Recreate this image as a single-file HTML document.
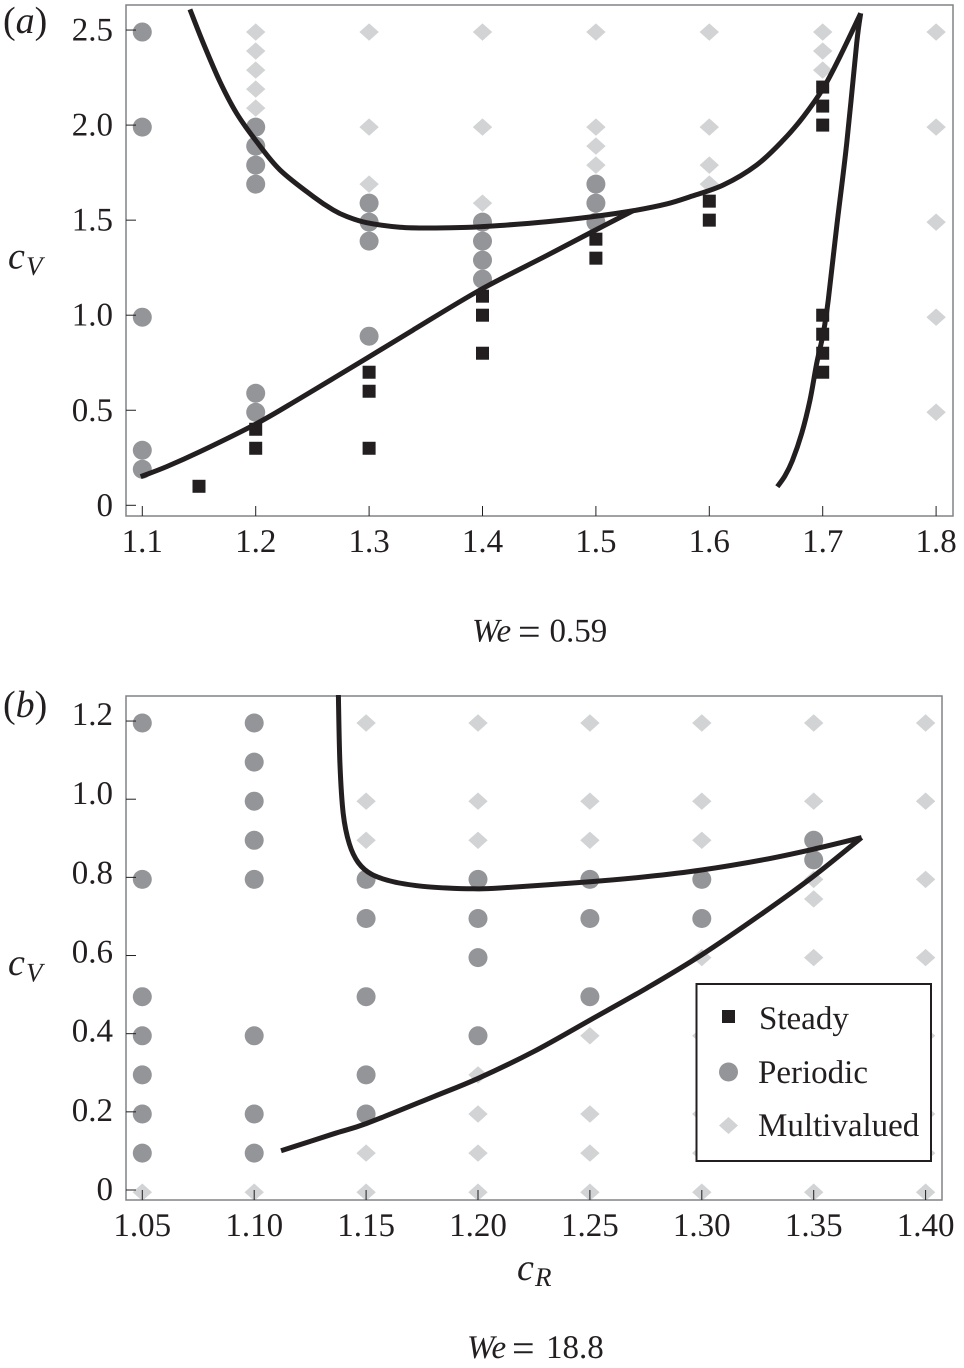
<!DOCTYPE html>
<html lang="en">
<head>
<meta charset="utf-8">
<title>Regime maps in the cR-cV plane</title>
<style>
html,body{margin:0;padding:0;background:#fff}
svg{display:block}
text{font-family:"Liberation Serif",serif;fill:#231f20;text-rendering:geometricPrecision}
.it{font-style:italic}
</style>
</head>
<body>
<svg id="figure" xmlns="http://www.w3.org/2000/svg" width="964" height="1368" viewBox="0 0 964 1368">
  <rect x="0" y="0" width="964" height="1368" fill="#fff"/>
  <defs>
    <clipPath id="clipB"><rect x="126" y="695" width="817" height="506"/></clipPath>
  </defs>

  <g>
    <g id="a-marks"></g>
    <rect x="126" y="5" width="827" height="511" fill="none" stroke="#808285" stroke-width="1.5"/>
    <g id="a-ticks"></g>
    <g id="a-curves"></g>
    <text x="3" y="33" font-size="38">(<tspan class="it">a</tspan>)</text>
    <text><tspan class="it" x="8" y="268.5" font-size="38">c</tspan><tspan class="it" x="26" y="275" font-size="27">V</tspan></text>
    <text><tspan class="it" x="472" y="641.5" font-size="33">We</tspan><tspan x="518" y="645" font-size="40">=</tspan><tspan x="549.5" y="641.5" font-size="33">0.59</tspan></text>
  </g>

  <g>
    <g id="b-marks"></g>
    <rect x="126" y="696" width="816" height="504" fill="none" stroke="#808285" stroke-width="1.5"/>
    <g id="b-ticks"></g>
    <g id="b-curves" clip-path="url(#clipB)"></g>
    <text x="3" y="717" font-size="38">(<tspan class="it">b</tspan>)</text>
    <text><tspan class="it" x="8" y="975" font-size="38">c</tspan><tspan class="it" x="26" y="981.5" font-size="27">V</tspan></text>
    <text><tspan class="it" x="517" y="1280" font-size="38">c</tspan><tspan class="it" x="535" y="1286" font-size="27">R</tspan></text>
    <text><tspan class="it" x="467" y="1358" font-size="33">We</tspan><tspan x="512" y="1361.5" font-size="40">=</tspan><tspan x="546" y="1358" font-size="33">18.8</tspan></text>

    <g>
      <rect x="696.5" y="984" width="234.5" height="177" fill="#fff" stroke="#231f20" stroke-width="2"/>
      <rect x="722" y="1010" width="13" height="13" fill="#231f20"/>
      <circle cx="728.5" cy="1072" r="9.5" fill="#939598"/>
      <polygon points="719,1125.5 728.5,1117 738,1125.5 728.5,1134" fill="#d1d3d4"/>
      <text x="759" y="1029" font-size="33">Steady</text>
      <text x="758" y="1083" font-size="33">Periodic</text>
      <text x="758" y="1136" font-size="33">Multivalued</text>
    </g>
  </g>
</svg>

<script>
/* ---------- Panel (a) data, We = 0.59 ---------- */
var aXTickValues = [1.1, 1.2, 1.3, 1.4, 1.5, 1.6, 1.7, 1.8];
var aXTickLabels = ["1.1", "1.2", "1.3", "1.4", "1.5", "1.6", "1.7", "1.8"];
var aYTickValues = [0, 0.5, 1.0, 1.5, 2.0, 2.5];
var aYTickLabels = ["0", "0.5", "1.0", "1.5", "2.0", "2.5"];

var aMultivalued = [
  [1.2, 2.5], [1.2, 2.4], [1.2, 2.3], [1.2, 2.2], [1.2, 2.1],
  [1.3, 2.5], [1.3, 2.0], [1.3, 1.7],
  [1.4, 2.5], [1.4, 2.0], [1.4, 1.6],
  [1.5, 2.5], [1.5, 2.0], [1.5, 1.9], [1.5, 1.8],
  [1.6, 2.5], [1.6, 2.0], [1.6, 1.8], [1.6, 1.7],
  [1.7, 2.5], [1.7, 2.4], [1.7, 2.3],
  [1.8, 2.5], [1.8, 2.0], [1.8, 1.5], [1.8, 1.0], [1.8, 0.5]
];
var aPeriodic = [
  [1.1, 2.5], [1.1, 2.0], [1.1, 1.0], [1.1, 0.3], [1.1, 0.2],
  [1.2, 2.0], [1.2, 1.9], [1.2, 1.8], [1.2, 1.7], [1.2, 0.6], [1.2, 0.5],
  [1.3, 1.6], [1.3, 1.5], [1.3, 1.4], [1.3, 0.9],
  [1.4, 1.5], [1.4, 1.4], [1.4, 1.3], [1.4, 1.2],
  [1.5, 1.7], [1.5, 1.6], [1.5, 1.5]
];
var aSteady = [
  [1.15, 0.1],
  [1.2, 0.4], [1.2, 0.3],
  [1.3, 0.7], [1.3, 0.6], [1.3, 0.3],
  [1.4, 1.1], [1.4, 1.0], [1.4, 0.8],
  [1.5, 1.4], [1.5, 1.3],
  [1.6, 1.6], [1.6, 1.5],
  [1.7, 2.2], [1.7, 2.1], [1.7, 2.0], [1.7, 1.0], [1.7, 0.9], [1.7, 0.8], [1.7, 0.7]
];
var aUpperCurve = [
  [1.142, 2.622], [1.1538, 2.443], [1.1685, 2.239], [1.1832, 2.072], [1.2009, 1.922],
  [1.2214, 1.773], [1.2508, 1.632], [1.2684, 1.561], [1.2802, 1.527], [1.2979, 1.494], [1.3272, 1.470],
  [1.3566, 1.466], [1.3861, 1.469], [1.4154, 1.479], [1.4566, 1.499], [1.4974, 1.526],
  [1.5327, 1.557], [1.5624, 1.593], [1.583, 1.631], [1.6123, 1.693], [1.6418, 1.799],
  [1.6653, 1.931], [1.6829, 2.054], [1.7005, 2.205], [1.7152, 2.372], [1.7335, 2.601]
];
var aRightCurve = [
  [1.7335, 2.601], [1.73, 2.444], [1.7212, 1.915], [1.7123, 1.471], [1.7049, 1.085],
  [1.7005, 0.909], [1.6947, 0.750], [1.6888, 0.556], [1.6815, 0.380],
  [1.6732, 0.235], [1.6667, 0.155], [1.66, 0.098]
];
var aLowerCurve = [
  [1.0986, 0.151], [1.1215, 0.204], [1.1509, 0.283], [1.2, 0.429], [1.2391, 0.565],
  [1.2979, 0.777], [1.3387, 0.926], [1.3978, 1.138], [1.4566, 1.320], [1.4974, 1.448], [1.5327, 1.557]
];

/* ---------- Panel (b) data, We = 18.8 ---------- */
var bXTickValues = [1.05, 1.10, 1.15, 1.20, 1.25, 1.30, 1.35, 1.40];
var bXTickLabels = ["1.05", "1.10", "1.15", "1.20", "1.25", "1.30", "1.35", "1.40"];
var bYTickValues = [0, 0.2, 0.4, 0.6, 0.8, 1.0, 1.2];
var bYTickLabels = ["0", "0.2", "0.4", "0.6", "0.8", "1.0", "1.2"];

var bMultivalued = [
  [1.05, 0], [1.10, 0],
  [1.15, 1.2], [1.15, 1.0], [1.15, 0.9], [1.15, 0.1], [1.15, 0],
  [1.20, 1.2], [1.20, 1.0], [1.20, 0.9], [1.20, 0.3], [1.20, 0.2], [1.20, 0.1], [1.20, 0],
  [1.25, 1.2], [1.25, 1.0], [1.25, 0.9], [1.25, 0.4], [1.25, 0.2], [1.25, 0.1], [1.25, 0],
  [1.30, 1.2], [1.30, 1.0], [1.30, 0.9], [1.30, 0.6], [1.30, 0.4], [1.30, 0.2], [1.30, 0.1], [1.30, 0],
  [1.35, 1.2], [1.35, 1.0], [1.35, 0.8], [1.35, 0.75], [1.35, 0.6], [1.35, 0],
  [1.40, 1.2], [1.40, 1.0], [1.40, 0.8], [1.40, 0.6], [1.40, 0.4], [1.40, 0.2], [1.40, 0.1], [1.40, 0]
];
var bPeriodic = [
  [1.05, 1.2], [1.05, 0.8], [1.05, 0.5], [1.05, 0.4], [1.05, 0.3], [1.05, 0.2], [1.05, 0.1],
  [1.10, 1.2], [1.10, 1.1], [1.10, 1.0], [1.10, 0.9], [1.10, 0.8], [1.10, 0.4], [1.10, 0.2], [1.10, 0.1],
  [1.15, 0.8], [1.15, 0.7], [1.15, 0.5], [1.15, 0.3], [1.15, 0.2],
  [1.20, 0.8], [1.20, 0.7], [1.20, 0.6], [1.20, 0.4],
  [1.25, 0.8], [1.25, 0.7], [1.25, 0.5],
  [1.30, 0.8], [1.30, 0.7],
  [1.35, 0.9], [1.35, 0.85]
];
var bUpperCurve = [
  [1.1376, 1.276], [1.1383, 1.097], [1.1398, 0.967], [1.1425, 0.891], [1.1465, 0.843],
  [1.1525, 0.813], [1.1622, 0.794], [1.1741, 0.783], [1.186, 0.778], [1.1979, 0.776],
  [1.2098, 0.778], [1.25, 0.794], [1.2754, 0.807], [1.2999, 0.824], [1.3273, 0.850],
  [1.3497, 0.877], [1.3714, 0.907]
];
var bLowerCurve = [
  [1.112, 0.106], [1.1353, 0.149], [1.1503, 0.176], [1.18, 0.244], [1.2, 0.291], [1.225, 0.36],
  [1.25, 0.440], [1.2754, 0.522], [1.2999, 0.607], [1.3273, 0.714], [1.3497, 0.807], [1.3714, 0.907]
];

/* ---------- Axis functions ---------- */
function aX(v) { return 142.3 + (v - 1.1) * 1134; }
function aY(v) { return 505.3 - v * 190.1; }
function aMarkY(v) { return aY(v) + 2; }
function aCurveY(v) { return 505.2 - v * 189.1; }
function aLabelY(v) { return aY(v) + 10.5; }
function bX(v) { return 142.3 + (v - 1.05) * 2238; }
function bY(v) { return 1190 - v * 390.8; }
function bMarkY(v) { return 1192.2 - v * 391; }
function bLabelY(v) { return 1200 - v * 395.8; }

var SVGNS = "http://www.w3.org/2000/svg";
function make(tag, parent) {
  var el = document.createElementNS(SVGNS, tag);
  parent.appendChild(el);
  return el;
}

function drawSquares(points, parent, fx, fy) {
  points.forEach(function (p) {
    var el = make("rect", parent);
    
    
    el.setAttribute("x", fx(p[0]) - 6.5);
    el.setAttribute("y", fy(p[1]) - 6.5);
    el.setAttribute("width", 13);
    el.setAttribute("height", 13);
    el.setAttribute("fill", "#231f20");
  });
}
function drawCircles(points, parent, fx, fy) {
  points.forEach(function (p) {
    var el = make("circle", parent);
    
    
    el.setAttribute("cx", fx(p[0]));
    el.setAttribute("cy", fy(p[1]));
    el.setAttribute("r", 9.5);
    el.setAttribute("fill", "#939598");
  });
}
function drawDiamonds(points, parent, fx, fy) {
  points.forEach(function (p) {
    var el = make("polygon", parent);
    var cx = fx(p[0]), cy = fy(p[1]);
    
    
    el.setAttribute("points", (cx - 9.7) + "," + cy + " " + cx + "," + (cy - 8.7) + " " + (cx + 9.7) + "," + cy + " " + cx + "," + (cy + 8.7));
    el.setAttribute("fill", "#d1d3d4");
  });
}
function smoothPath(points, fx, fy) {
  var p = points.map(function (q) { return [fx(q[0]), fy(q[1])]; });
  var d = "M" + p[0][0].toFixed(2) + " " + p[0][1].toFixed(2);
  for (var i = 0; i < p.length - 1; i++) {
    var p0 = p[Math.max(i - 1, 0)], p1 = p[i], p2 = p[i + 1], p3 = p[Math.min(i + 2, p.length - 1)];
    var c1x = p1[0] + (p2[0] - p0[0]) / 6, c1y = p1[1] + (p2[1] - p0[1]) / 6;
    var c2x = p2[0] - (p3[0] - p1[0]) / 6, c2y = p2[1] - (p3[1] - p1[1]) / 6;
    d += "C" + c1x.toFixed(2) + " " + c1y.toFixed(2) + " " + c2x.toFixed(2) + " " + c2y.toFixed(2) + " " + p2[0].toFixed(2) + " " + p2[1].toFixed(2);
  }
  return d;
}
function drawCurve(points, parent, fx, fy) {
  var el = make("path", parent);
  
  
  el.setAttribute("d", smoothPath(points, fx, fy));
  el.setAttribute("fill", "none");
  el.setAttribute("stroke", "#231f20");
  el.setAttribute("stroke-width", 5);
  el.setAttribute("stroke-linejoin", "miter");
}
function drawAxes(parent, xVals, xLabels, yVals, yLabels, fx, tickY, labelY, left, bottom, xBase) {
  xVals.forEach(function (v, i) {
    var t = make("line", parent);
    
    
    t.setAttribute("x1", fx(v));
    t.setAttribute("x2", fx(v));
    t.setAttribute("y1", bottom);
    t.setAttribute("y2", bottom - 10);
    t.setAttribute("stroke", "#231f20");
    t.setAttribute("stroke-width", 1);
    var l = make("text", parent);
    
    
    l.setAttribute("x", fx(v));
    l.setAttribute("y", xBase);
    l.setAttribute("font-size", 33);
    l.setAttribute("text-anchor", "middle");
    l.textContent = xLabels[i];
  });
  yVals.forEach(function (v, i) {
    var t = make("line", parent);
    
    
    t.setAttribute("x1", left);
    t.setAttribute("x2", left + 10);
    t.setAttribute("y1", tickY(v));
    t.setAttribute("y2", tickY(v));
    t.setAttribute("stroke", "#231f20");
    t.setAttribute("stroke-width", 1);
    var l = make("text", parent);
    
    
    l.setAttribute("x", 113);
    l.setAttribute("y", labelY(v));
    l.setAttribute("font-size", 33);
    l.setAttribute("text-anchor", "end");
    l.textContent = yLabels[i];
  });
}

/* ---------- Render ---------- */
var aMarks = document.getElementById("a-marks");
drawDiamonds(aMultivalued, aMarks, aX, aMarkY);
drawCircles(aPeriodic, aMarks, aX, aMarkY);
drawSquares(aSteady, aMarks, aX, aY);
drawAxes(document.getElementById("a-ticks"), aXTickValues, aXTickLabels, aYTickValues, aYTickLabels, aX, aY, aLabelY, 126, 516, 552);
var aCurves = document.getElementById("a-curves");
drawCurve(aUpperCurve, aCurves, aX, aCurveY);
drawCurve(aRightCurve, aCurves, aX, aCurveY);
drawCurve(aLowerCurve, aCurves, aX, aCurveY);

var bMarks = document.getElementById("b-marks");
drawDiamonds(bMultivalued, bMarks, bX, bMarkY);
drawCircles(bPeriodic, bMarks, bX, bMarkY);
drawAxes(document.getElementById("b-ticks"), bXTickValues, bXTickLabels, bYTickValues, bYTickLabels, bX, bY, bLabelY, 126, 1200, 1236);
var bCurves = document.getElementById("b-curves");
drawCurve(bUpperCurve, bCurves, bX, bMarkY);
drawCurve(bLowerCurve, bCurves, bX, bMarkY);
</script>
</body>
</html>
